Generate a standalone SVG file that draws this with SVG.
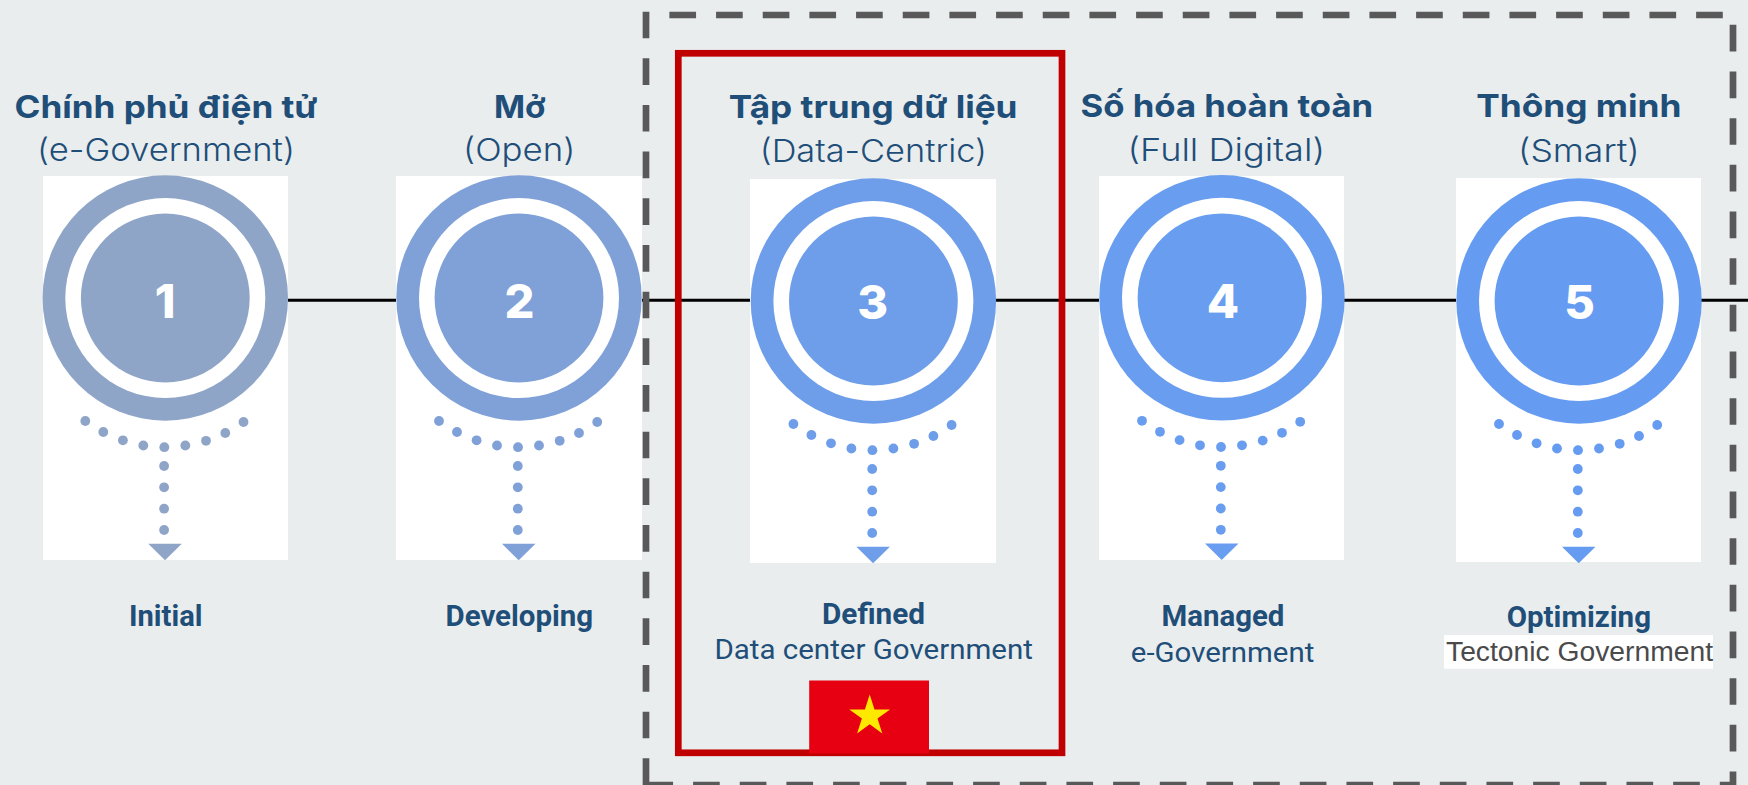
<svg xmlns="http://www.w3.org/2000/svg" xmlns:xlink="http://www.w3.org/1999/xlink" width="1748" height="785" viewBox="0 0 1748 785">
<style>
.h{font-family:Inter,"Noto Sans",sans-serif;font-weight:700;font-size:31.5px;fill:#1F4E79}
.s{font-family:Inter,"Noto Sans",sans-serif;font-weight:300;font-size:31.5px;fill:#1F4E79}
.n{font-family:Inter,"Noto Sans",sans-serif;font-weight:800;font-size:47px;fill:#fff;text-anchor:middle}
.b{font-family:Roboto,"Liberation Sans",sans-serif;font-weight:700;font-size:30px;fill:#1F4E79}
.r{font-family:Roboto,"Liberation Sans",sans-serif;font-weight:400;font-size:28.5px;fill:#1F4E79}
.panel{fill:#fff}
.c1{fill:#8FA5C8}.c2{fill:#7FA1D8}.c3{fill:#6E9EE9}.c4{fill:#699DEF}.c5{fill:#659BF1}
</style>
<defs>
<g id="badge">
<circle r="122.7"/>
<circle r="100" fill="#fff"/>
<circle r="84.4"/>
<circle cx="-80" cy="123" r="4.9"/><circle cx="-62" cy="134" r="4.9"/><circle cx="-42.4" cy="142.3" r="4.9"/><circle cx="-22" cy="147.5" r="4.9"/><circle cx="-1" cy="149.2" r="4.9"/><circle cx="20" cy="147.5" r="4.9"/><circle cx="40.7" cy="142.8" r="4.9"/><circle cx="60" cy="135" r="4.9"/><circle cx="78.2" cy="124" r="4.9"/>
<circle cx="-1.2" cy="168" r="4.9"/><circle cx="-1.2" cy="189.3" r="4.9"/><circle cx="-1.2" cy="210.7" r="4.9"/><circle cx="-1.2" cy="232" r="4.9"/>
<polygon points="-17,245.7 16.5,245.7 -0.3,262.3"/>
</g>
</defs>
<rect id="background" width="1748" height="785" fill="#E9EDEE"/>
<g id="connectors"><path d="M288 300.3H1748" fill="none" stroke="#000" stroke-width="3"/></g>
<g id="node-1">
<rect class="panel" x="43" y="176" width="245" height="384"/>
<use xlink:href="#badge" href="#badge" x="165.3" y="298" class="c1"/>
<text class="n" x="165" y="318">1</text>
<text class="h" x="14.5" y="118" textLength="303" lengthAdjust="spacingAndGlyphs">Chính phủ điện tử</text>
<text class="s" x="37" y="161.2" textLength="258" lengthAdjust="spacingAndGlyphs">(e-Government)</text>
<text class="b" x="129" y="626" textLength="73.5" lengthAdjust="spacingAndGlyphs">Initial</text>
</g>
<g id="node-2">
<rect class="panel" x="396" y="176" width="246" height="384"/>
<use xlink:href="#badge" href="#badge" x="519" y="298" class="c2"/>
<text class="n" x="519.5" y="318">2</text>
<text class="h" x="494" y="118" textLength="51.5" lengthAdjust="spacingAndGlyphs">Mở</text>
<text class="s" x="463" y="161.2" textLength="112.4" lengthAdjust="spacingAndGlyphs">(Open)</text>
<text class="b" x="445.5" y="626" textLength="147.7" lengthAdjust="spacingAndGlyphs">Developing</text>
</g>
<g id="node-3">
<rect class="panel" x="750" y="179" width="246" height="384"/>
<use xlink:href="#badge" href="#badge" x="873.4" y="301" class="c3"/>
<text class="n" x="872.7" y="318.5">3</text>
<text class="h" x="728.8" y="117.7" textLength="288.7" lengthAdjust="spacingAndGlyphs">Tập trung dữ liệu</text>
<text class="s" x="759.7" y="162" textLength="227.3" lengthAdjust="spacingAndGlyphs">(Data-Centric)</text>
<text class="b" x="822" y="624" textLength="103" lengthAdjust="spacingAndGlyphs">Defined</text>
<text class="r" x="714.4" y="659" textLength="318.5" lengthAdjust="spacingAndGlyphs">Data center Government</text>
</g>
<g id="node-4">
<rect class="panel" x="1099" y="176" width="245" height="384"/>
<use xlink:href="#badge" href="#badge" x="1222" y="297.8" class="c4"/>
<text class="n" x="1223" y="318">4</text>
<text class="h" x="1080.5" y="117.3" textLength="292.7" lengthAdjust="spacingAndGlyphs">Số hóa hoàn toàn</text>
<text class="s" x="1127.5" y="161.2" textLength="197.5" lengthAdjust="spacingAndGlyphs">(Full Digital)</text>
<text class="b" x="1161.4" y="626.3" textLength="123" lengthAdjust="spacingAndGlyphs">Managed</text>
<text class="r" x="1130.8" y="662" textLength="183.5" lengthAdjust="spacingAndGlyphs">e-Government</text>
</g>
<g id="node-5">
<rect class="panel" x="1456" y="178" width="245" height="384"/>
<use xlink:href="#badge" href="#badge" x="1579" y="301" class="c5"/>
<text class="n" x="1579.5" y="318.5">5</text>
<text class="h" x="1476.2" y="116.7" textLength="205.3" lengthAdjust="spacingAndGlyphs">Thông minh</text>
<text class="s" x="1518" y="161.5" textLength="121.7" lengthAdjust="spacingAndGlyphs">(Smart)</text>
<text class="b" x="1506.7" y="626.7" textLength="144.3" lengthAdjust="spacingAndGlyphs">Optimizing</text>
<rect class="panel" x="1444" y="635" width="269" height="33.7"/>
<text x="1446" y="660.7" font-family="'Liberation Sans',Arial,sans-serif" font-size="27" fill="#4A4A4A" textLength="267" lengthAdjust="spacingAndGlyphs">Tectonic Government</text>
</g>
<g id="dashed-frame"><path d="M646 785V15H1733V785Z" fill="none" stroke="#595959" stroke-width="6.7" stroke-dasharray="26.67 20"/></g>
<g id="highlight"><rect x="678.3" y="53.3" width="383.7" height="699.5" fill="none" stroke="#C00000" stroke-width="6.7"/></g>
<g id="flag">
<rect x="809.2" y="680.5" width="119.8" height="73" fill="#E60012"/>
<polygon fill="#FFE800" points="869.7,694.5 874.5,709.4 890.1,709.4 877.5,718.5 882.3,733.4 869.7,724.2 857.1,733.4 861.9,718.5 849.3,709.4 864.9,709.4"/>
</g>
</svg>
